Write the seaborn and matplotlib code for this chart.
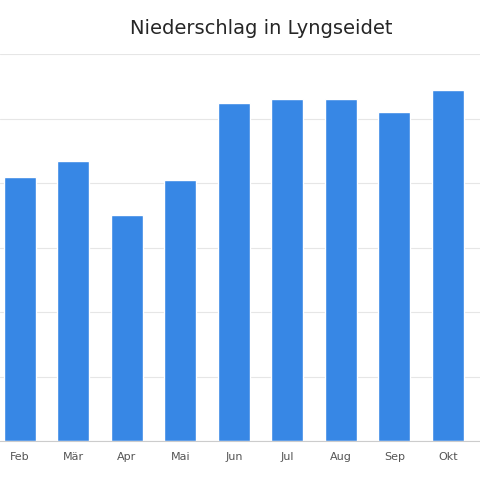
import matplotlib
matplotlib.use("Agg")
import matplotlib.pyplot as plt
import seaborn as sns

months = ["Feb", "Mär", "Apr", "Mai", "Jun", "Jul", "Aug", "Sep", "Okt"]
precip = [82, 87, 70, 81, 105, 106, 106, 102, 109]

sns.set_style("whitegrid")
fig = plt.figure(figsize=(4.8, 4.8), dpi=100)
ax = fig.add_axes([0.0, 0.081, 1.0, 0.806])
sns.barplot(x=months, y=precip, color="#3787e5", saturation=1, width=0.6, ax=ax)

ax.set_xlim(-0.37, 8.6)
ax.set_ylim(0, 120)
ax.set_yticks(range(0, 121, 20))
ax.set_yticklabels([])
ax.tick_params(axis="y", length=0)
ax.tick_params(axis="x", colors="#555555", labelsize=8, length=4, color="#cccccc")
ax.grid(axis="y", color="#e6e6e6", linewidth=0.8)
ax.grid(axis="x", visible=False)
for s in ["left", "right", "top"]:
    ax.spines[s].set_visible(False)
ax.spines["bottom"].set_color("#cccccc")
ax.set_xlabel("")
ax.set_ylabel("")
fig.text(0.545, 0.94, "Niederschlag in Lyngseidet", ha="center", va="center", fontsize=14)
fig.savefig("out.png")
